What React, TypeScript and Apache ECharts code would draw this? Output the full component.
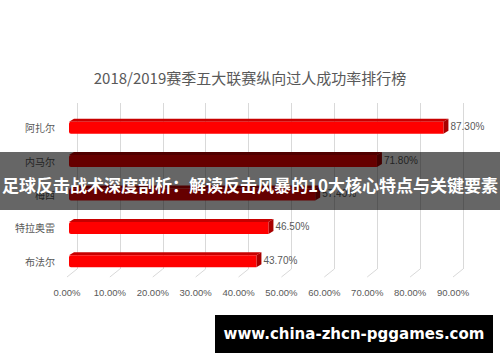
import React, { useEffect, useRef } from "react";
import * as echarts from "echarts";

const title = "2018/2019赛季五大联赛纵向过人成功率排行榜";
const players = ["阿扎尔", "内马尔", "梅西", "特拉奥雷", "布法尔"];
const rates = [87.3, 71.8, 57.4, 46.5, 43.7];
const ticks = [0, 10, 20, 30, 40, 50, 60, 70, 80, 90];
const bannerText = "足球反击战术深度剖析：解读反击风暴的10大核心特点与关键要素";
const siteText = "www.china-zhcn-pggames.com";

const GRAY = "#595959";
const CJK = "'Noto Sans CJK SC', 'Noto Sans', sans-serif";

export default function App() {
  const ref = useRef<HTMLDivElement>(null);
  useEffect(() => {
    if (!ref.current) return;
    const chart = echarts.init(ref.current, undefined, { renderer: "svg" });
    const option: any = {
      animation: false,
      backgroundColor: "#ffffff",
      title: {
        text: title,
        left: "center",
        top: 65,
        textStyle: { fontFamily: CJK, fontSize: 15, fontWeight: "normal", color: GRAY },
      },
      grid: [
        { left: 67, top: 111, width: 386, height: 167 },
        { left: 77, top: 103, width: 386, height: 166 },
      ],
      xAxis: [
        {
          type: "value",
          gridIndex: 0,
          min: 0,
          max: 90,
          interval: 10,
          axisLine: { show: false },
          axisTick: { show: false },
          splitLine: { show: false },
          axisLabel: {
            margin: 9,
            color: GRAY,
            fontSize: 9.5,
            fontFamily: "'Liberation Sans', Arial, sans-serif",
            formatter: (v: number) => v.toFixed(2) + "%",
          },
        },
        {
          type: "value",
          gridIndex: 1,
          min: 0,
          max: 90,
          interval: 10,
          axisLine: { show: false },
          axisTick: { show: false },
          axisLabel: { show: false },
          splitLine: { show: true, lineStyle: { color: "#d9d9d9", width: 1 } },
        },
      ],
      yAxis: [
        {
          type: "category",
          gridIndex: 0,
          data: players,
          inverse: true,
          axisLine: { show: false },
          axisTick: { show: false },
          axisLabel: { margin: 12, color: GRAY, fontSize: 10, fontFamily: CJK },
        },
        {
          type: "value",
          gridIndex: 1,
          min: 0,
          max: 1,
          show: false,
          splitLine: { show: false },
        },
      ],
      series: [
        {
          type: "custom",
          xAxisIndex: 1,
          yAxisIndex: 1,
          z: 1,
          silent: true,
          data: ticks.map((t) => [t, 0]),
          renderItem: (params: any, api: any) => {
            const p = api.coord([api.value(0), 0]);
            return {
              type: "line",
              shape: { x1: p[0], y1: p[1], x2: p[0] - 10, y2: p[1] + 8 },
              style: { stroke: "#d9d9d9", lineWidth: 1 },
            };
          },
        },
        {
          type: "custom",
          xAxisIndex: 0,
          yAxisIndex: 0,
          z: 5,
          data: rates.map((v, i) => [v, i]),
          encode: { x: 0, y: 1 },
          renderItem: (params: any, api: any) => {
            const v = api.value(0);
            const c = api.value(1);
            const s = api.coord([0, c]);
            const e = api.coord([v, c]);
            const h = 12;
            const dx = 5;
            const dy = 3;
            const x0 = s[0] + 2;
            const x1 = e[0] + 2;
            const top = s[1] - h / 2;
            const bottom = s[1] + h / 2;
            return {
              type: "group",
              children: [
                {
                  type: "polygon",
                  shape: { points: [[x0, top], [x1, top], [x1 + dx, top - dy], [x0 + dx, top - dy]] },
                  style: { fill: "#c80000" },
                },
                {
                  type: "polygon",
                  shape: { points: [[x1, top], [x1 + dx, top - dy], [x1 + dx, bottom - dy], [x1, bottom]] },
                  style: { fill: "#a80000" },
                },
                {
                  type: "rect",
                  shape: { x: x0, y: top, width: x1 - x0, height: h, r: [2, 0, 0, 2] },
                  style: { fill: "#ff0000" },
                },
                {
                  type: "text",
                  x: x1 + dx + 2,
                  y: s[1] - 1,
                  style: {
                    text: v.toFixed(2) + "%",
                    fill: GRAY,
                    fontSize: 10,
                    fontFamily: "'Liberation Sans', Arial, sans-serif",
                    verticalAlign: "middle",
                    align: "left",
                  },
                },
              ],
            };
          },
        },
      ],
      graphic: [
        {
          type: "rect",
          z: 100,
          shape: { x: 0, y: 152, width: 500, height: 58 },
          style: { fill: "rgba(0,0,0,0.6)" },
        },
        {
          type: "text",
          z: 101,
          x: 250,
          y: 184,
          style: {
            text: bannerText,
            fill: "#ffffff",
            fontSize: 17,
            fontWeight: "bold",
            fontFamily: CJK,
            align: "center",
            verticalAlign: "middle",
          },
        },
        {
          type: "rect",
          z: 100,
          shape: { x: 215, y: 315, width: 278, height: 38 },
          style: { fill: "#000000" },
        },
        {
          type: "text",
          z: 101,
          x: 354,
          y: 334,
          style: {
            text: siteText,
            fill: "#ffffff",
            fontSize: 15,
            fontWeight: "bold",
            fontFamily: "'DejaVu Sans', sans-serif",
            align: "center",
            verticalAlign: "middle",
          },
        },
      ],
    };
    chart.setOption(option);
    return () => chart.dispose();
  }, []);
  return (
    <div
      ref={ref}
      style={{ position: "absolute", left: 0, top: 0, width: 500, height: 362 }}
    />
  );
}
